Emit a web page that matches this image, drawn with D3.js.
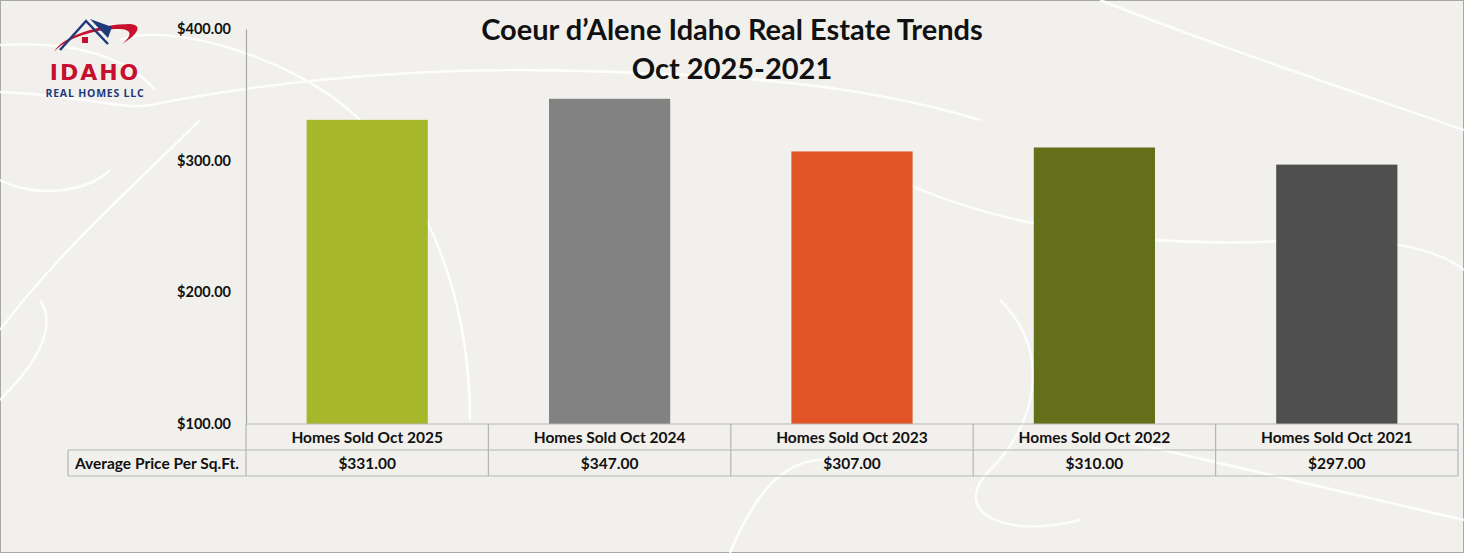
<!DOCTYPE html>
<html><head><meta charset="utf-8">
<script src="https://cdn.jsdelivr.net/npm/d3@7"></script>
<style>
html,body{margin:0;padding:0;background:#f1f0ec;}
svg{display:block;}
</style></head>
<body>
<svg id="chart" width="1464" height="553"></svg>
<script>
const categories = ["Homes Sold Oct 2025","Homes Sold Oct 2024","Homes Sold Oct 2023","Homes Sold Oct 2022","Homes Sold Oct 2021"];
const values = [331, 347, 307, 310, 297];
const barColors = ["#a6b829","#828282","#e05426","#646f1a","#4f4f4f"];
const yTicks = [100, 200, 300, 400];
const rowLabel = "Average Price Per Sq.Ft.";
const titleLines = ["Coeur d\u2019Alene Idaho Real Estate Trends","Oct 2025-2021"];

(function(){
const W = 1464, H = 553;
const svg = d3.select("#chart");
const mLeft = 246, mRight = 1458, mTop = 29, mBottom = 424, rowH = 26, tableLeft = 68;
const font = "Lato, 'Open Sans', sans-serif";

svg.append("rect").attr("x",0.5).attr("y",0.5).attr("width",W-1).attr("height",H-1)
  .attr("fill","#f1f0ec").attr("stroke","#a8a8a8");

// decorative background swirls
const deco = svg.append("g").attr("fill","none").attr("stroke","#ffffff").attr("stroke-width",2.5).attr("opacity",0.9);
[
 "M0,45 C80,40 130,60 155,90",
 "M0,92 C80,95 120,110 150,105 C250,85 380,70 520,70 C700,72 850,80 980,120",
 "M120,40 C170,20 300,60 360,120 C430,200 470,300 470,420",
 "M0,330 C60,250 140,180 200,120",
 "M0,400 C30,370 60,330 40,300",
 "M1100,0 C1200,40 1320,80 1464,130",
 "M860,160 C980,230 1150,250 1300,240 C1380,235 1440,250 1464,270",
 "M1000,300 C1050,350 1040,420 990,470 C950,510 1000,540 1080,520",
 "M730,553 C760,480 800,440 860,470",
 "M1120,440 C1250,470 1380,500 1464,520",
 "M0,180 C40,200 90,190 110,170"
].forEach(d=>deco.append("path").attr("d",d));

// logo
const logo = svg.append("g");
logo.append("path").attr("d","M54,52 C62,36 100,24 130,24 C142,25 140,33 122,44 C134,34 132,28 114,29 C88,31 64,40 54,52 Z").attr("fill","#c8102e");
logo.append("path").attr("d","M60,50 L86,21 L108,44").attr("fill","none").attr("stroke","#1f3a7a").attr("stroke-width",2.5);
logo.append("path").attr("d","M90,19 L112,27 L108,38 Z").attr("fill","#1f3a7a");
logo.append("rect").attr("x",82).attr("y",37).attr("width",6).attr("height",6).attr("fill","#c8102e");
logo.append("text").attr("x",95).attr("y",80).attr("text-anchor","middle")
  .attr("font-family","'DejaVu Sans', sans-serif").attr("font-weight","900").attr("font-size",22)
  .attr("letter-spacing",2).attr("fill","#c8102e").text("IDAHO");
logo.append("text").attr("x",95).attr("y",97).attr("text-anchor","middle")
  .attr("font-family","'Open Sans', sans-serif").attr("font-weight","700").attr("font-size",10.5)
  .attr("letter-spacing",0.8).attr("fill","#1f3a7a").text("REAL HOMES LLC");

// scales
const x = d3.scaleBand().domain(categories).range([mLeft, mRight]).paddingInner(0).paddingOuter(0);
const y = d3.scaleLinear().domain([100, 400]).range([mBottom, mTop]);

// y axis
const yAxis = d3.axisLeft(y).tickValues(yTicks).tickSize(0).tickPadding(15)
  .tickFormat(d => "$" + d3.format(",.2f")(d));
const ya = svg.append("g").attr("transform",`translate(${mLeft},0)`).call(yAxis);
ya.select(".domain").attr("stroke","#a8a8a8").attr("stroke-width",1.2);
ya.selectAll("text").attr("font-family",font).attr("font-weight","700").attr("font-size",14.5).attr("fill","#111");

// bars
const bw = x.bandwidth()*0.5;
svg.append("g").selectAll("rect").data(categories).join("rect")
  .attr("x", d => x(d) + (x.bandwidth()-bw)/2)
  .attr("y", (d,i) => y(values[i]))
  .attr("width", bw)
  .attr("height", (d,i) => y(100) - y(values[i]))
  .attr("fill", (d,i) => barColors[i]);

// data table
const tbl = svg.append("g").attr("stroke","#b5b5b5").attr("stroke-width",1.2).attr("fill","none");
tbl.append("line").attr("x1",mLeft).attr("x2",mRight).attr("y1",mBottom).attr("y2",mBottom);
tbl.append("line").attr("x1",tableLeft).attr("x2",mRight).attr("y1",mBottom+rowH).attr("y2",mBottom+rowH);
tbl.append("line").attr("x1",tableLeft).attr("x2",mRight).attr("y1",mBottom+2*rowH).attr("y2",mBottom+2*rowH);
tbl.append("line").attr("x1",tableLeft).attr("x2",tableLeft).attr("y1",mBottom+rowH).attr("y2",mBottom+2*rowH);
categories.forEach(c=>{
  tbl.append("line").attr("x1",x(c)+x.bandwidth()).attr("x2",x(c)+x.bandwidth()).attr("y1",mBottom).attr("y2",mBottom+2*rowH);
});
tbl.append("line").attr("x1",mLeft).attr("x2",mLeft).attr("y1",mBottom).attr("y2",mBottom+2*rowH);

const txt = svg.append("g").attr("font-family",font).attr("font-weight","700").attr("font-size",15.5).attr("fill","#111").attr("text-anchor","middle");
categories.forEach((c,i)=>{
  txt.append("text").attr("x",x(c)+x.bandwidth()/2).attr("y",mBottom+rowH/2+5.5).text(c);
  txt.append("text").attr("x",x(c)+x.bandwidth()/2).attr("y",mBottom+rowH*1.5+5.5).text("$"+d3.format(",.2f")(values[i]));
});
txt.append("text").attr("x",(tableLeft+mLeft)/2).attr("y",mBottom+rowH*1.5+5.5).text(rowLabel);

// title
svg.append("g").attr("font-family",font).attr("font-weight","700").attr("font-size",29).attr("fill","#111").attr("text-anchor","middle")
  .selectAll("text").data(titleLines).join("text")
  .attr("x",732).attr("y",(d,i)=>40+i*39).text(d=>d);
})();
</script>
</body></html>
